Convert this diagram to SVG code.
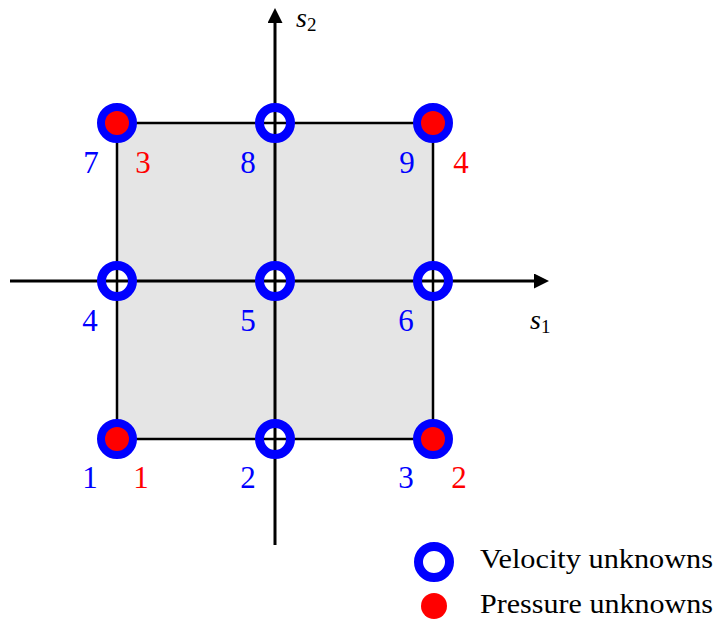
<svg xmlns="http://www.w3.org/2000/svg" width="721" height="623" viewBox="0 0 721 623">
<style>
.disk{fill:#fff}
.ring{fill:none;stroke:#0000ff;stroke-width:9}
.pn{fill:#ff0000}
.lb{font-family:"Liberation Serif",serif;font-size:31px;text-anchor:middle}
.b{fill:#0000ff}
.r{fill:#ff0000}
.leg{font-family:"Liberation Serif",serif;font-size:27px;fill:#000}
.ax{font-family:"Liberation Serif",serif;font-style:italic;font-size:28px;fill:#000}
.sub{font-family:"Liberation Serif",serif;font-style:normal;font-size:19px;fill:#000}
</style>
<defs>
<marker id="ah" viewBox="0 0 10 10" refX="0" refY="5" markerWidth="6" markerHeight="5" markerUnits="strokeWidth" orient="auto">
<path d="M0,0 L10,5 L0,10 z" fill="#000"/>
</marker>
</defs>
<rect x="117" y="123" width="316" height="316" fill="#e5e5e5"/>
<g id="disks">
<circle class="disk" cx="275" cy="439" r="12"/>
<circle class="disk" cx="117" cy="281" r="12"/>
<circle class="disk" cx="275" cy="281" r="12"/>
<circle class="disk" cx="433" cy="281" r="12"/>
<circle class="disk" cx="275" cy="123" r="12"/>
</g>
<g id="connectors" stroke="#000" fill="none">
<rect x="117" y="123" width="316" height="316" stroke-width="2.5"/>
<line x1="10" y1="281" x2="534" y2="281" stroke-width="3" marker-end="url(#ah)"/>
<line x1="275" y1="545" x2="275" y2="23" stroke-width="3" marker-end="url(#ah)"/>
</g>
<g id="axis-labels">
<text class="ax" x="296" y="27">s<tspan class="sub" dy="4">2</tspan></text>
<text class="ax" x="530" y="329">s<tspan class="sub" dy="4">1</tspan></text>
</g>
<g id="n1"><circle class="ring" cx="117" cy="439" r="15.5"/><circle class="pn" cx="117" cy="439" r="12"/><text class="lb b" x="90" y="488">1</text><text class="lb r" x="141" y="488">1</text></g>
<g id="n2"><circle class="ring" cx="275" cy="439" r="15.5"/><text class="lb b" x="248" y="488">2</text></g>
<g id="n3"><circle class="ring" cx="433" cy="439" r="15.5"/><circle class="pn" cx="433" cy="439" r="12"/><text class="lb b" x="406" y="488">3</text><text class="lb r" x="459" y="488">2</text></g>
<g id="n4"><circle class="ring" cx="117" cy="281" r="15.5"/><text class="lb b" x="90" y="331">4</text></g>
<g id="n5"><circle class="ring" cx="275" cy="281" r="15.5"/><text class="lb b" x="248" y="331">5</text></g>
<g id="n6"><circle class="ring" cx="433" cy="281" r="15.5"/><text class="lb b" x="406" y="331">6</text></g>
<g id="n7"><circle class="ring" cx="117" cy="123" r="15.5"/><circle class="pn" cx="117" cy="123" r="12"/><text class="lb b" x="91" y="173">7</text><text class="lb r" x="143" y="173">3</text></g>
<g id="n8"><circle class="ring" cx="275" cy="123" r="15.5"/><text class="lb b" x="248" y="173">8</text></g>
<g id="n9"><circle class="ring" cx="433" cy="123" r="15.5"/><circle class="pn" cx="433" cy="123" r="12"/><text class="lb b" x="407" y="173">9</text><text class="lb r" x="461" y="173">4</text></g>
<g id="legend">
<circle class="disk" cx="434" cy="562" r="12"/>
<circle class="ring" cx="434" cy="562" r="15.5"/>
<text class="leg" x="480" y="568" textLength="233" lengthAdjust="spacingAndGlyphs">Velocity unknowns</text>
<circle class="pn" cx="434" cy="606" r="13"/>
<text class="leg" x="480" y="613" textLength="233" lengthAdjust="spacingAndGlyphs">Pressure unknowns</text>
</g>
</svg>
